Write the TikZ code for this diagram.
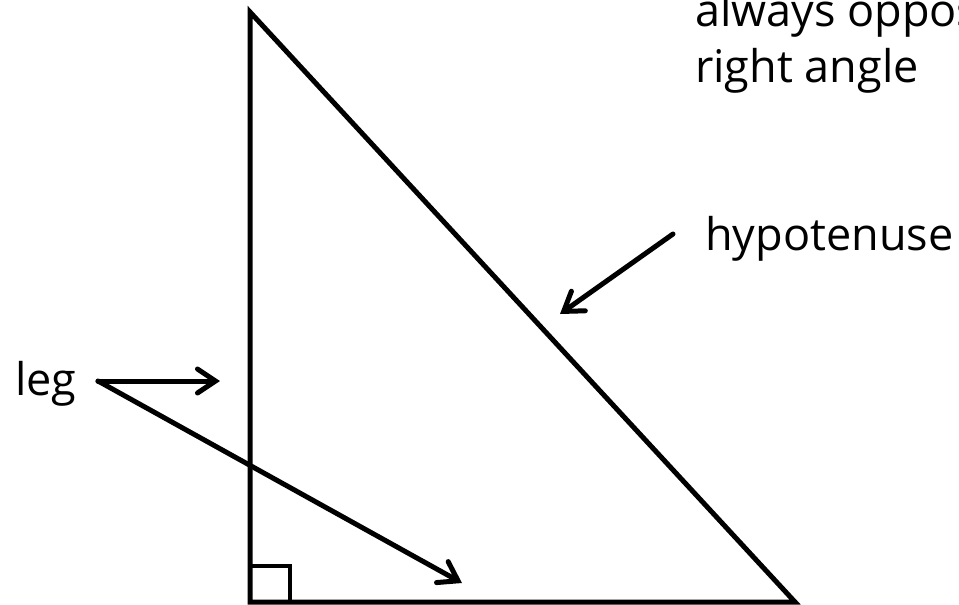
\documentclass[tikz,border=0pt]{standalone}
\usepackage{fontspec}
\setmainfont{Open Sans}
\usetikzlibrary{arrows.meta}
\tikzset{
  side/.style={line width=5pt, line join=miter},
  arr/.style={-{Straight Barb[length=18pt, width=24pt, line cap=round]}, line width=5pt, line cap=round},
  lbl/.style={anchor=base west, inner sep=0pt, font=\fontsize{45}{56}\selectfont},
}
\begin{document}
\begin{tikzpicture}[x=1pt, y=-1pt]
  \clip (0,0) rectangle (959,605);
  % triangle
  \coordinate (top) at (250,12);
  \coordinate (rt) at (250,602);
  \coordinate (rgt) at (795,602);
  \draw[side] (top) -- (rt) -- (rgt) -- cycle;
  \draw[line width=4.5pt] (250,566) -| (290,602);
  % labels
  \node[lbl] (leg) at (15,395) {leg};
  \node[lbl] (hyp) at (705,250) {hypotenuse};
  \node[lbl] (note) at (695,26) {always opposite};
  \node[lbl] (note2) at (695,82) {right angle};
  % arrows
  \coordinate (legtail) at (98,381);
  \coordinate (legtip) at (220,381);
  \coordinate (basetip) at (462,583);
  \coordinate (hyptail) at (673,234);
  \coordinate (hyptip) at (560,314);
  \draw[arr] (legtail) -- (legtip);
  \draw[arr] (legtail) -- (basetip);
  \draw[arr] (hyptail) -- (hyptip);
\end{tikzpicture}
\end{document}
